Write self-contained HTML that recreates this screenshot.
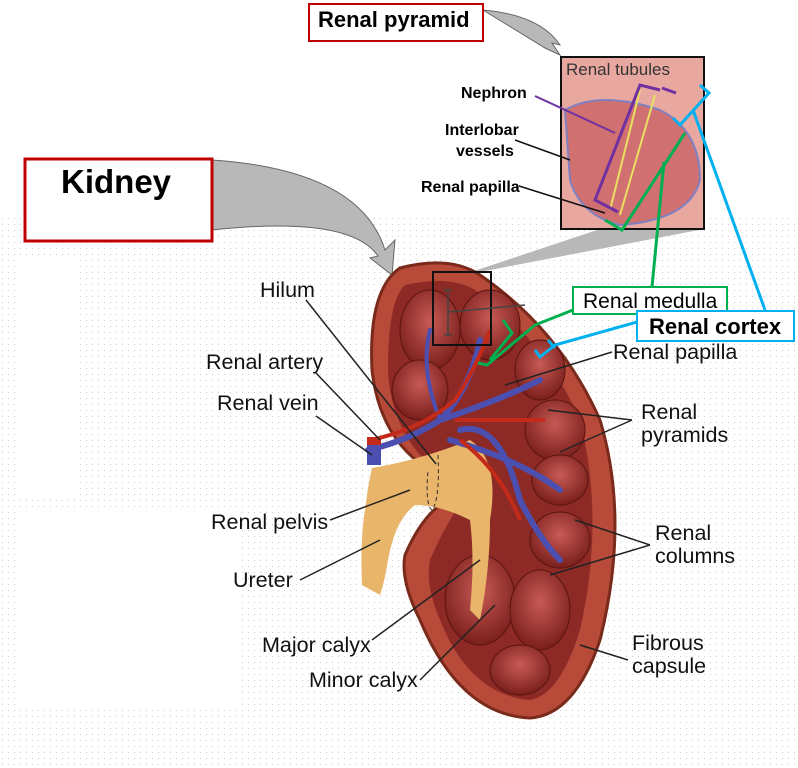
<!DOCTYPE html>
<html><head><meta charset="utf-8"><style>
html,body{margin:0;padding:0;background:#fff}
svg{display:block}
text{font-family:"Liberation Sans",Arial,sans-serif}
</style></head><body>
<svg width="798" height="768" viewBox="0 0 798 768" xmlns="http://www.w3.org/2000/svg">
<defs>
<pattern id="dots" width="6" height="6" patternUnits="userSpaceOnUse"><rect width="6" height="6" fill="#fff"/><rect x="2" y="2" width="1" height="1" fill="#ccc"/></pattern>
<radialGradient id="pyr" cx="50%" cy="40%" r="60%"><stop offset="0" stop-color="#c85a55"/><stop offset="1" stop-color="#7a1f1c"/></radialGradient>
</defs>
<rect width="798" height="768" fill="#fff"/>
<rect x="0" y="215" width="798" height="553" fill="url(#dots)"/>
<rect x="20" y="260" width="60" height="240" fill="#fff"/>
<rect x="15" y="510" width="225" height="200" fill="#fff"/>
<!-- grey arrows -->
<path d="M483 10 Q540 15 560 45 L552 43 L560 55 L545 48 Z" fill="#b8b8b8" stroke="#666" stroke-width="1"/>
<path d="M212 160 Q360 170 385 250 L395 240 L392 275 L370 258 L378 256 Q350 215 212 230 Z" fill="#b8b8b8" stroke="#666"/>
<path d="M462 275 L600 229 L704 229 L490 270 Z" fill="#b8b8b8"/>
<!-- kidney -->
<path d="M400 268 Q450 255 480 275 Q560 330 600 420 Q630 520 600 640 Q575 715 530 718 Q460 715 420 620 Q400 580 405 555 Q420 520 440 505 Q445 490 430 470 Q380 440 372 370 Q368 290 400 268 Z" fill="#b84a3a" stroke="#7a2a1a" stroke-width="3"/>
<path d="M405 285 Q450 275 475 290 Q545 340 580 420 Q605 520 580 630 Q560 695 530 700 Q470 695 440 620 Q425 585 430 560 Q445 525 460 505 Q440 470 420 455 Q390 420 388 370 Q388 300 405 285 Z" fill="#8e2a25"/>
<g fill="url(#pyr)" stroke="#5a1410" stroke-width="1">
<ellipse cx="430" cy="330" rx="30" ry="40"/>
<ellipse cx="490" cy="325" rx="30" ry="35"/>
<ellipse cx="420" cy="390" rx="28" ry="30"/>
<ellipse cx="540" cy="370" rx="25" ry="30"/>
<ellipse cx="555" cy="430" rx="30" ry="30"/>
<ellipse cx="560" cy="480" rx="28" ry="25"/>
<ellipse cx="560" cy="540" rx="30" ry="28"/>
<ellipse cx="480" cy="600" rx="35" ry="45"/>
<ellipse cx="540" cy="610" rx="30" ry="40"/>
<ellipse cx="520" cy="670" rx="30" ry="25"/>
</g>
<!-- pelvis & ureter -->
<path d="M372 468 Q420 460 470 440 Q500 460 490 520 Q490 570 480 620 L470 610 Q475 560 470 520 Q440 505 415 505 Q395 520 388 560 Q385 580 380 595 L362 585 Q360 540 365 510 Q368 485 372 468 Z" fill="#e8b56a"/>
<!-- vessels -->
<g stroke="#4b4fb0" stroke-width="6" fill="none" stroke-linecap="round">
<path d="M368 450 Q410 440 440 420 Q470 390 480 340"/>
<path d="M440 420 Q500 400 540 380"/>
<path d="M450 440 Q520 460 560 490"/>
<path d="M460 430 Q500 420 520 500 Q540 540 560 560"/>
<path d="M440 420 Q420 370 430 330" stroke-width="4"/>
</g>
<g stroke="#c42a1a" stroke-width="4" fill="none">
<path d="M370 440 Q420 430 455 400 Q475 370 490 330"/>
<path d="M455 420 Q510 420 545 420"/>
<path d="M460 440 Q500 470 520 520"/>
</g>
<rect x="367" y="437" width="14" height="28" fill="#4b4fb0"/>
<rect x="367" y="437" width="14" height="8" fill="#c42a1a"/>
<path d="M438 455 Q440 500 432 510 Q425 505 428 470" fill="none" stroke="#333" stroke-dasharray="4,3"/>
<rect x="433" y="272" width="58" height="73" fill="none" stroke="#111" stroke-width="2"/>
<path d="M448 290 L448 335 M444 290 L452 290 M444 335 L452 335 M448 312 L525 305" stroke="#444" stroke-width="1.5"/>
<!-- inset -->
<rect x="561" y="57" width="143" height="172" fill="#e8a8a0" stroke="#111" stroke-width="2"/>
<path d="M565 110 Q600 90 660 110 Q700 130 700 180 Q690 220 620 225 Q580 215 570 180 Z" fill="#d07070" stroke="#8080c0" stroke-width="2"/>
<path d="M640 90 L610 210 M655 95 L620 215" stroke="#e8e060" stroke-width="2"/>
<text x="566" y="75" font-size="17" fill="#333">Renal tubules</text>
<path d="M660 90 L640 85 L595 200 L618 212" fill="none" stroke="#7030a0" stroke-width="3"/>
<path d="M662 88 L676 93" stroke="#7030a0" stroke-width="3"/>
<path d="M535 96 L615 133" stroke="#7030a0" stroke-width="2"/>
<path d="M515 140 L570 160 M519 186 L605 213" stroke="#111" stroke-width="1.5"/>
<g font-size="16" font-weight="bold">
<text x="461" y="98">Nephron</text>
<text x="445" y="135">Interlobar</text>
<text x="456" y="156">vessels</text>
<text x="421" y="192">Renal papilla</text>
</g>
<!-- green/blue brackets -->
<path d="M605 220 L622 230 L685 133" fill="none" stroke="#00b050" stroke-width="3"/>
<path d="M664 162 L652 287" stroke="#00b050" stroke-width="3"/>
<path d="M573 310 L535 325 L487 365 L478 363 M503 320 L512 333 L490 360" fill="none" stroke="#00b050" stroke-width="3"/>
<path d="M700 85 L709 93 L680 125 L673 118" fill="none" stroke="#00b0f0" stroke-width="3"/>
<path d="M693 110 L765 310" stroke="#00b0f0" stroke-width="3"/>
<path d="M637 322 L555 345 L540 357 L535 350 M548 340 L555 348" fill="none" stroke="#00b0f0" stroke-width="3"/>
<!-- label boxes -->
<rect x="309" y="4" width="174" height="37" fill="#fff" stroke="#c00000" stroke-width="2"/>
<text x="318" y="27" font-size="22" font-weight="bold">Renal pyramid</text>
<rect x="25" y="159" width="187" height="82" fill="#fff" stroke="#c00000" stroke-width="3"/>
<text x="61" y="193" font-size="33" font-weight="bold">Kidney</text>
<rect x="573" y="287" width="154" height="27" fill="#fff" stroke="#00b050" stroke-width="2"/>
<text x="583" y="308" font-size="21">Renal medulla</text>
<rect x="637" y="311" width="157" height="30" fill="#fff" stroke="#00b0f0" stroke-width="2"/>
<text x="649" y="334" font-size="22" font-weight="bold">Renal cortex</text>
<!-- leader lines -->
<g stroke="#222" stroke-width="1.5" fill="none">
<path d="M306 300 L436 464"/>
<path d="M316 373 L380 440"/>
<path d="M316 416 L372 455"/>
<path d="M330 520 L410 490"/>
<path d="M300 580 L380 540"/>
<path d="M372 640 L480 560"/>
<path d="M420 680 L495 605"/>
<path d="M612 352 L505 385"/>
<path d="M632 420 L548 410 M632 420 L560 452"/>
<path d="M650 545 L575 520 M650 545 L550 575"/>
<path d="M628 660 L580 645"/>
</g>
<g font-size="21.5" fill="#111">
<text x="260" y="297">Hilum</text>
<text x="206" y="369">Renal artery</text>
<text x="217" y="410">Renal vein</text>
<text x="211" y="529">Renal pelvis</text>
<text x="233" y="587">Ureter</text>
<text x="262" y="652">Major calyx</text>
<text x="309" y="687">Minor calyx</text>
<text x="613" y="359">Renal papilla</text>
<text x="641" y="419">Renal</text>
<text x="641" y="442">pyramids</text>
<text x="655" y="540">Renal</text>
<text x="655" y="563">columns</text>
<text x="632" y="650">Fibrous</text>
<text x="632" y="673">capsule</text>
</g>
</svg>
</body></html>
